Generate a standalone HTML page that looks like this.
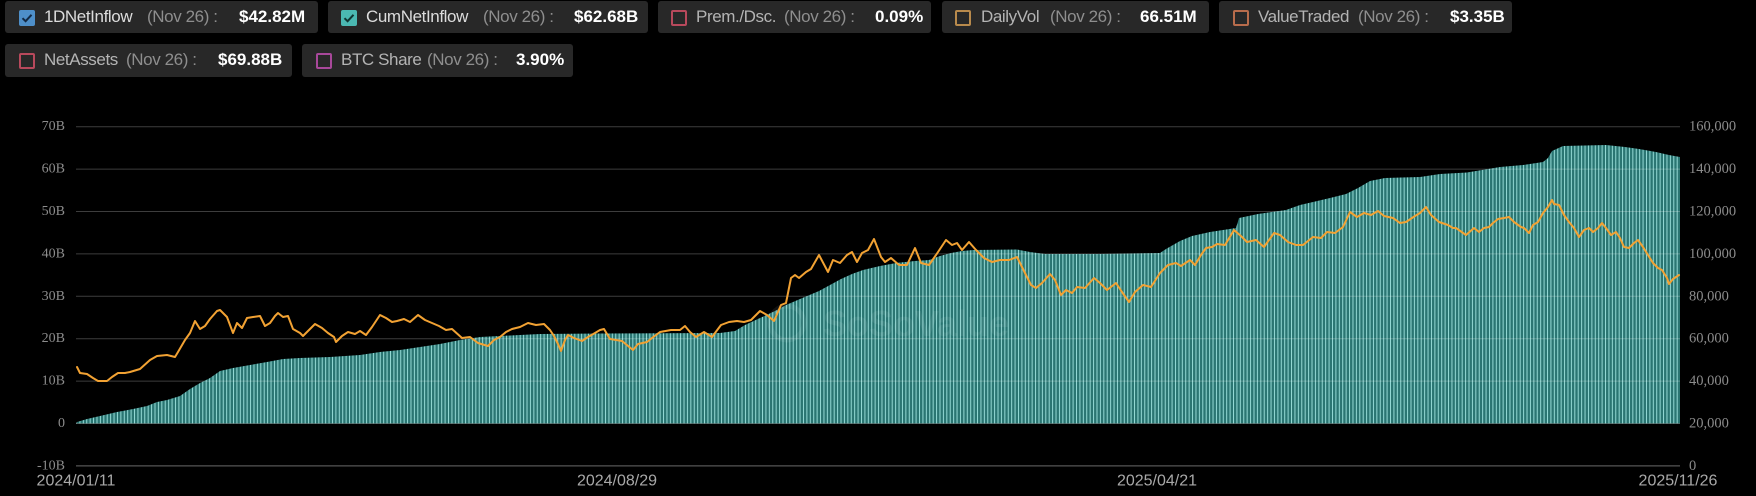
<!DOCTYPE html>
<html><head><meta charset="utf-8">
<style>
html,body{margin:0;padding:0;background:#000;}
#root{position:relative;width:1756px;height:496px;background:#000;overflow:hidden;font-family:"Liberation Sans",Arial,sans-serif;}
.box{position:absolute;background:#282828;border-radius:3px;}
.cb{position:absolute;width:14px;height:14px;border-radius:2px;box-sizing:border-box;}
.t{position:absolute;font-size:17px;white-space:nowrap;line-height:20px;}
.n{color:#dcdcdc;letter-spacing:-0.4px;}
.n2{color:#b4b4b4;letter-spacing:-0.4px;}
.p{color:#8e8e8e;letter-spacing:-0.4px;}
.v{color:#fff;font-weight:bold;}
svg{position:absolute;left:0;top:0;}
</style></head><body><div id="root">

<!-- Row 1 -->
<div class="box" style="left:5px;top:1px;width:313px;height:32px;"></div>
<div class="cb" style="left:19px;top:10px;width:16px;height:16px;background:#4e8fc9;"><svg width="16" height="16" style="position:absolute;left:0;top:0"><path d="M3.5 8.2 L6.6 11.2 L12.5 4.8" stroke="#132a45" stroke-width="2" fill="none"/></svg></div>
<div class="t n" style="left:44px;top:7px;">1DNetInflow</div>
<div class="t p" style="left:147px;top:7px;">(Nov 26) :</div>
<div class="t v" style="left:239px;top:7px;">$42.82M</div>

<div class="box" style="left:328px;top:1px;width:320px;height:32px;"></div>
<div class="cb" style="left:341px;top:10px;width:16px;height:16px;background:#4bb8b2;"><svg width="16" height="16" style="position:absolute;left:0;top:0"><path d="M3.5 8.2 L6.6 11.2 L12.5 4.8" stroke="#103633" stroke-width="2" fill="none"/></svg></div>
<div class="t n" style="left:366px;top:7px;">CumNetInflow</div>
<div class="t p" style="left:483px;top:7px;">(Nov 26) :</div>
<div class="t v" style="left:574px;top:7px;">$62.68B</div>

<div class="box" style="left:658px;top:1px;width:273px;height:32px;"></div>
<div class="cb" style="left:671px;top:10px;width:16px;height:16px;border:2px solid #b8495c;"></div>
<div class="t n2" style="left:696px;top:7px;">Prem./Dsc.</div>
<div class="t p" style="left:784px;top:7px;">(Nov 26) :</div>
<div class="t v" style="left:875px;top:7px;">0.09%</div>

<div class="box" style="left:942px;top:1px;width:267px;height:32px;"></div>
<div class="cb" style="left:955px;top:10px;width:16px;height:16px;border:2px solid #b88a4c;"></div>
<div class="t n2" style="left:981px;top:7px;">DailyVol</div>
<div class="t p" style="left:1050px;top:7px;">(Nov 26) :</div>
<div class="t v" style="left:1140px;top:7px;">66.51M</div>

<div class="box" style="left:1219px;top:1px;width:293px;height:32px;"></div>
<div class="cb" style="left:1233px;top:10px;width:16px;height:16px;border:2px solid #b86c4c;"></div>
<div class="t n2" style="left:1258px;top:7px;">ValueTraded</div>
<div class="t p" style="left:1358px;top:7px;">(Nov 26) :</div>
<div class="t v" style="left:1450px;top:7px;">$3.35B</div>

<!-- Row 2 -->
<div class="box" style="left:5px;top:44px;width:287px;height:33px;"></div>
<div class="cb" style="left:19px;top:53px;width:16px;height:16px;border:2px solid #b8495c;"></div>
<div class="t n2" style="left:44px;top:50px;">NetAssets</div>
<div class="t p" style="left:126px;top:50px;">(Nov 26) :</div>
<div class="t v" style="left:218px;top:50px;">$69.88B</div>

<div class="box" style="left:302px;top:44px;width:271px;height:33px;"></div>
<div class="cb" style="left:316px;top:53px;width:16px;height:16px;border:2px solid #a8489a;"></div>
<div class="t n2" style="left:341px;top:50px;">BTC Share</div>
<div class="t p" style="left:427px;top:50px;">(Nov 26) :</div>
<div class="t v" style="left:516px;top:50px;">3.90%</div>

<svg width="1756" height="496" viewBox="0 0 1756 496" xmlns="http://www.w3.org/2000/svg">
<defs>
<pattern id="bars" patternUnits="userSpaceOnUse" x="76" y="0" width="3.413" height="20">
<rect x="0" y="0" width="3.413" height="20" fill="#2a7572"/>
<rect x="0" y="0" width="1" height="20" fill="#94dad5"/>
</pattern>
</defs>

<!-- cumulative bars -->
<polygon fill="url(#bars)" points="76,423.5 77,422 87,419 100,416 117,412 133,409 147,406 157,402 167,400 180,396 190,389 200,383 210,378 220,371 233,368 250,365 267,362 283,359 300,358 330,357 360,355 380,352 400,350 420,347 440,344 460,340 480,337 500,336 520,335 540,334 600,333.5 720,333 735,331 745,325 760,318 775,311 786,305 800,299 819,291 830,285 841,279 852,274 863,270 880,266 896,263 915,261 929,260 940,256 951,253 962,251 973,250 1017,249.5 1030,252 1045,254 1100,254 1160,253 1166,249 1180,241 1192,236 1210,232 1236,228 1239,218 1258,214 1286,210 1300,205 1313,202 1330,198 1346,194 1358,188 1370,181 1385,178 1420,177 1440,174 1467,172.5 1500,167 1523,165 1543,162 1548,158 1552,151 1563,146 1606,145 1625,147 1639,149 1656,152 1669,155 1680,157 1680,423.5"/>

<!-- watermark -->
<g opacity="0.07">
<circle cx="787" cy="323" r="17" fill="none" stroke="#fff" stroke-width="5"/>
<text x="823" y="336" font-family="Liberation Sans, sans-serif" font-size="36" font-weight="bold" fill="#fff">SoSoValue</text>
</g>

<!-- grid -->
<g stroke="#ffffff" stroke-opacity="0.24" stroke-width="1">
<line x1="76" y1="126.7" x2="1680" y2="126.7"/>
<line x1="76" y1="169.1" x2="1680" y2="169.1"/>
<line x1="76" y1="211.5" x2="1680" y2="211.5"/>
<line x1="76" y1="253.9" x2="1680" y2="253.9"/>
<line x1="76" y1="296.3" x2="1680" y2="296.3"/>
<line x1="76" y1="338.7" x2="1680" y2="338.7"/>
<line x1="76" y1="381.1" x2="1680" y2="381.1"/>
<line x1="76" y1="423.5" x2="1680" y2="423.5"/>
</g>
<line x1="76" y1="465.9" x2="1680" y2="465.9" stroke="#555" stroke-width="1.2"/>

<!-- BTC price line -->
<polyline fill="none" stroke="#f2a233" stroke-width="2" stroke-linejoin="round" stroke-linecap="round" points="77,367 80,373 87,374 93,378 98,381 107,381 112,377 118,373 125,373 130,372 140,369 150,360 157,356 167,355 175,357 178,352 185,340 190,333 195,321 200,329 205,326 210,319 217,311 220,310 227,317 233,333 237,323 242,328 247,318 253,317 260,316 265,326 270,323 275,316 278,313 283,317 288,316 293,329 300,333 303,336 309,330 315,324 322,328 328,333 334,337 336,342 342,336 348,332 355,334 360,331 366,335 372,327 380,315 386,318 392,322 397,321 404,319 410,322 418,315 425,320 432,323 439,326 446,330 452,329 462,338 470,337 478,343 488,346 494,340 500,337 506,332 512,329 520,327 528,323 536,325 544,324 550,330 554,336 558,344 561,351 565,340 568,335 574,338 582,341 588,337 595,333 600,330 604,329 610,339 622,341 633,350 638,344 647,342 652,338 660,332 671,330 680,330 685,326 690,332 696,337 704,332 712,337 721,325 729,322 737,321 744,322 751,320 760,311 767,315 774,321 781,305 786,303 791,278 795,275 799,278 806,272 811,269 819,255 828,272 833,260 840,263 847,255 852,252 857,262 862,253 868,250 874,239 881,257 885,262 891,258 899,265 907,265 915,248 921,263 929,265 936,255 946,240 952,245 957,243 962,250 969,242 976,250 984,258 992,262 1000,260 1009,260 1017,257 1022,267 1031,285 1036,288 1042,283 1050,274 1055,280 1061,295 1066,290 1072,293 1077,287 1085,288 1094,278 1100,283 1107,290 1116,283 1122,292 1129,302 1135,292 1143,285 1151,287 1160,273 1168,265 1176,263 1181,266 1190,260 1195,265 1201,255 1206,248 1212,247 1217,244 1225,245 1234,230 1242,237 1247,242 1256,240 1264,247 1274,233 1280,235 1288,242 1296,245 1303,245 1313,237 1321,238 1327,232 1335,233 1343,227 1350,212 1357,217 1364,213 1371,215 1378,211 1384,216 1393,218 1400,223 1406,222 1415,216 1420,213 1426,207 1431,215 1439,222 1448,225 1453,228 1456,228 1466,235 1474,228 1479,232 1484,228 1489,227 1493,223 1498,219 1504,218 1509,217 1514,222 1521,227 1524,228 1529,233 1533,225 1538,222 1543,213 1548,207 1552,200 1554,204 1559,205 1564,215 1569,222 1574,228 1579,237 1584,230 1589,228 1593,232 1598,228 1602,223 1606,228 1611,235 1616,232 1620,238 1624,247 1629,248 1634,243 1638,240 1643,247 1648,255 1653,263 1658,268 1662,270 1667,278 1669,284 1673,279 1676,277 1679,275"/>

<!-- left axis labels -->
<g font-family="Liberation Serif, serif" font-size="14" fill="#8c8c8c" text-anchor="end" dominant-baseline="central">
<text x="65" y="126.7">70B</text>
<text x="65" y="169.1">60B</text>
<text x="65" y="211.5">50B</text>
<text x="65" y="253.9">40B</text>
<text x="65" y="296.3">30B</text>
<text x="65" y="338.7">20B</text>
<text x="65" y="381.1">10B</text>
<text x="65" y="423.5">0</text>
<text x="65" y="465.9">-10B</text>
</g>
<!-- right axis labels -->
<g font-family="Liberation Serif, serif" font-size="14.5" fill="#8c8c8c" text-anchor="start" dominant-baseline="central">
<text x="1689" y="126.7">160,000</text>
<text x="1689" y="169.1">140,000</text>
<text x="1689" y="211.5">120,000</text>
<text x="1689" y="253.9">100,000</text>
<text x="1689" y="296.3">80,000</text>
<text x="1689" y="338.7">60,000</text>
<text x="1689" y="381.1">40,000</text>
<text x="1689" y="423.5">20,000</text>
<text x="1689" y="465.9">0</text>
</g>
<!-- x labels -->
<g font-family="Liberation Sans, sans-serif" font-size="16" fill="#a8a8a8" text-anchor="middle" dominant-baseline="central">
<text x="76" y="481">2024/01/11</text>
<text x="617" y="481">2024/08/29</text>
<text x="1157" y="481">2025/04/21</text>
<text x="1678" y="481">2025/11/26</text>
</g>
</svg>
</div></body></html>
